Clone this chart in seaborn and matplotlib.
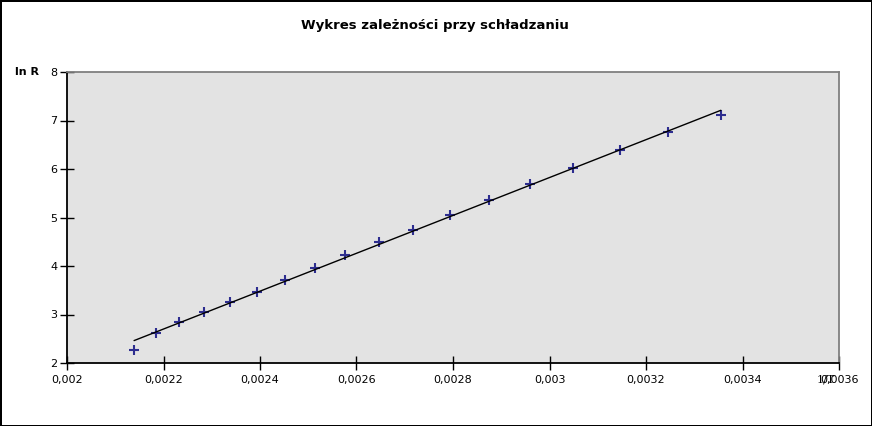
import matplotlib
matplotlib.use("Agg")
import matplotlib.pyplot as plt
from matplotlib.ticker import FuncFormatter, MultipleLocator
import seaborn as sns
import pandas as pd

# Dane pomiarowe
inv_T = [0.002139, 0.002184, 0.002232, 0.002284, 0.002338, 0.002394,
         0.002452, 0.002514, 0.002576, 0.002647, 0.002717, 0.002794,
         0.002875, 0.002960, 0.003049, 0.003146, 0.003246, 0.003355]
ln_R = [2.27, 2.62, 2.85, 3.05, 3.26, 3.46, 3.71, 3.96, 4.23, 4.49,
        4.74, 5.05, 5.36, 5.69, 6.02, 6.39, 6.76, 7.11]

df = pd.DataFrame({"1/T": inv_T, "ln R": ln_R})

sns.set_style("white")
plt.rcParams['font.family'] = ['DejaVu Sans']
plt.rcParams['text.color'] = 'black'

fig = plt.figure(figsize=(8.72, 4.26), dpi=100, edgecolor='black', linewidth=2)
ax = fig.add_axes([67 / 872, 1 - 363 / 426, 772 / 872, 291 / 426])
ax.set_facecolor('#e3e3e3')

sns.regplot(data=df, x="1/T", y="ln R", ax=ax, ci=None, marker='+',
            scatter_kws={'color': '#00007a', 's': 50, 'linewidths': 1.5},
            line_kws={'color': 'black', 'linewidth': 1})

ax.set_xlim(0.002, 0.0036)
ax.set_ylim(2, 8)
ax.xaxis.set_major_locator(MultipleLocator(0.0002))
ax.yaxis.set_major_locator(MultipleLocator(1))
ax.xaxis.set_major_formatter(FuncFormatter(lambda v, p: ('%g' % round(v, 6)).replace('.', ',')))
ax.yaxis.set_major_formatter(FuncFormatter(lambda v, p: '%g' % v))
ax.tick_params(axis='both', bottom=True, left=True, direction='inout', length=10,
               width=1, labelsize=8, colors='black')
ax.tick_params(axis='x', pad=4)
ax.tick_params(axis='y', pad=2)

for s in ['top', 'right']:
    ax.spines[s].set_color('#808080')
    ax.spines[s].set_linewidth(1.3)
for s in ['left', 'bottom']:
    ax.spines[s].set_color('black')
    ax.spines[s].set_linewidth(1.3)

ax.set_xlabel('')
ax.set_ylabel('')
fig.text(27 / 872, 1 - 72 / 426, 'ln R', fontsize=8, fontweight='bold', ha='center', va='center')
fig.text(826 / 872, 1 - 380 / 426, '1/T', fontsize=8, family='DejaVu Serif', ha='center', va='center')
fig.text(435 / 872, 1 - 25 / 426, 'Wykres zależności przy schładzaniu', fontsize=9.5,
         fontweight='bold', ha='center', va='center')

fig.savefig('out.png', dpi=100, edgecolor=fig.get_edgecolor())
